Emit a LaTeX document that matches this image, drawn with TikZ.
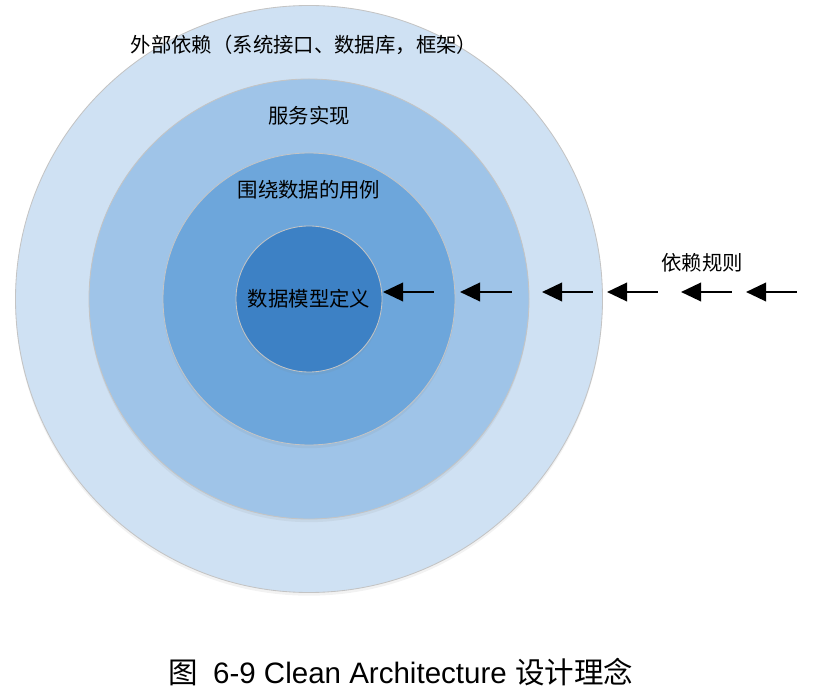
\documentclass[tikz,border=0pt]{standalone}
\usepackage{fontspec}
\setmainfont{Liberation Sans}
\newfontfamily\cjk{Noto Sans CJK SC}
\usetikzlibrary{arrows.meta,shadows}
\definecolor{ringA}{HTML}{CFE1F3}
\definecolor{ringB}{HTML}{9FC4E8}
\definecolor{ringC}{HTML}{6DA6DB}
\definecolor{ringD}{HTML}{3D81C5}
\definecolor{rimgray}{HTML}{C4C4C4}
\tikzset{
	ring/.style={shape=circle, draw=rimgray, line width=0.6pt, inner sep=0pt,
		drop shadow={opacity=0.10, shadow xshift=0cm, shadow yshift=-0.08cm}},
	ringlabel/.style={anchor=center, align=center, inner sep=2pt, font=\cjk\fontsize{14.5}{17}\selectfont},
	rulearrow/.style={line width=1.7pt, {Triangle[length=0.5cm, width=0.46cm]}-}
}
\begin{document}
\begin{tikzpicture}
	\useasboundingbox (0,0) rectangle (20.325,17.375);
	% Circles:
	\node[ring, fill=ringA, minimum size=14.675cm] (outer) at (7.725, 9.9){};
	\node[ring, fill=ringB, minimum size=11.0cm] (service) at (7.725, 9.9){};
	\node[ring, fill=ringC, minimum size=7.3cm] (usecase) at (7.725, 9.9){};
	\node[ring, fill=ringD, minimum size=3.65cm] (model) at (7.725, 9.9){};
	% Labels:
	\node[ringlabel] (outerlabel) at (7.6, 16.25){外部依赖（系统接口、数据库，框架）};
	\node[ringlabel] (servicelabel) at (7.725, 14.475){服务实现};
	\node[ringlabel] (usecaselabel) at (7.725, 12.625){围绕数据的用例};
	\node[ringlabel] (modellabel) at (7.725, 9.9){数据模型定义};
	\node[ringlabel] (rulelabel) at (17.55, 10.8){依赖规则};
	% Arrows (dependency rule, pointing inwards):
	\foreach \n/\tip/\tail in {1/9.575/10.85, 2/11.5/12.8, 3/13.55/14.825, 4/15.175/16.45, 5/17.025/18.3, 6/18.65/19.925}{
		\coordinate (tip\n) at (\tip, 10.075);
		\coordinate (tail\n) at (\tail, 10.075);
		\draw[rulearrow] (tip\n) -- (tail\n);
	}
	% Caption:
	\node[anchor=center, inner sep=2pt, font=\fontsize{21}{25}\selectfont] (caption) at (10.025, 0.575){{\cjk 图}\hspace{0.5em}6-9 Clean Architecture {\cjk 设计理念}};
\end{tikzpicture}
\end{document}
